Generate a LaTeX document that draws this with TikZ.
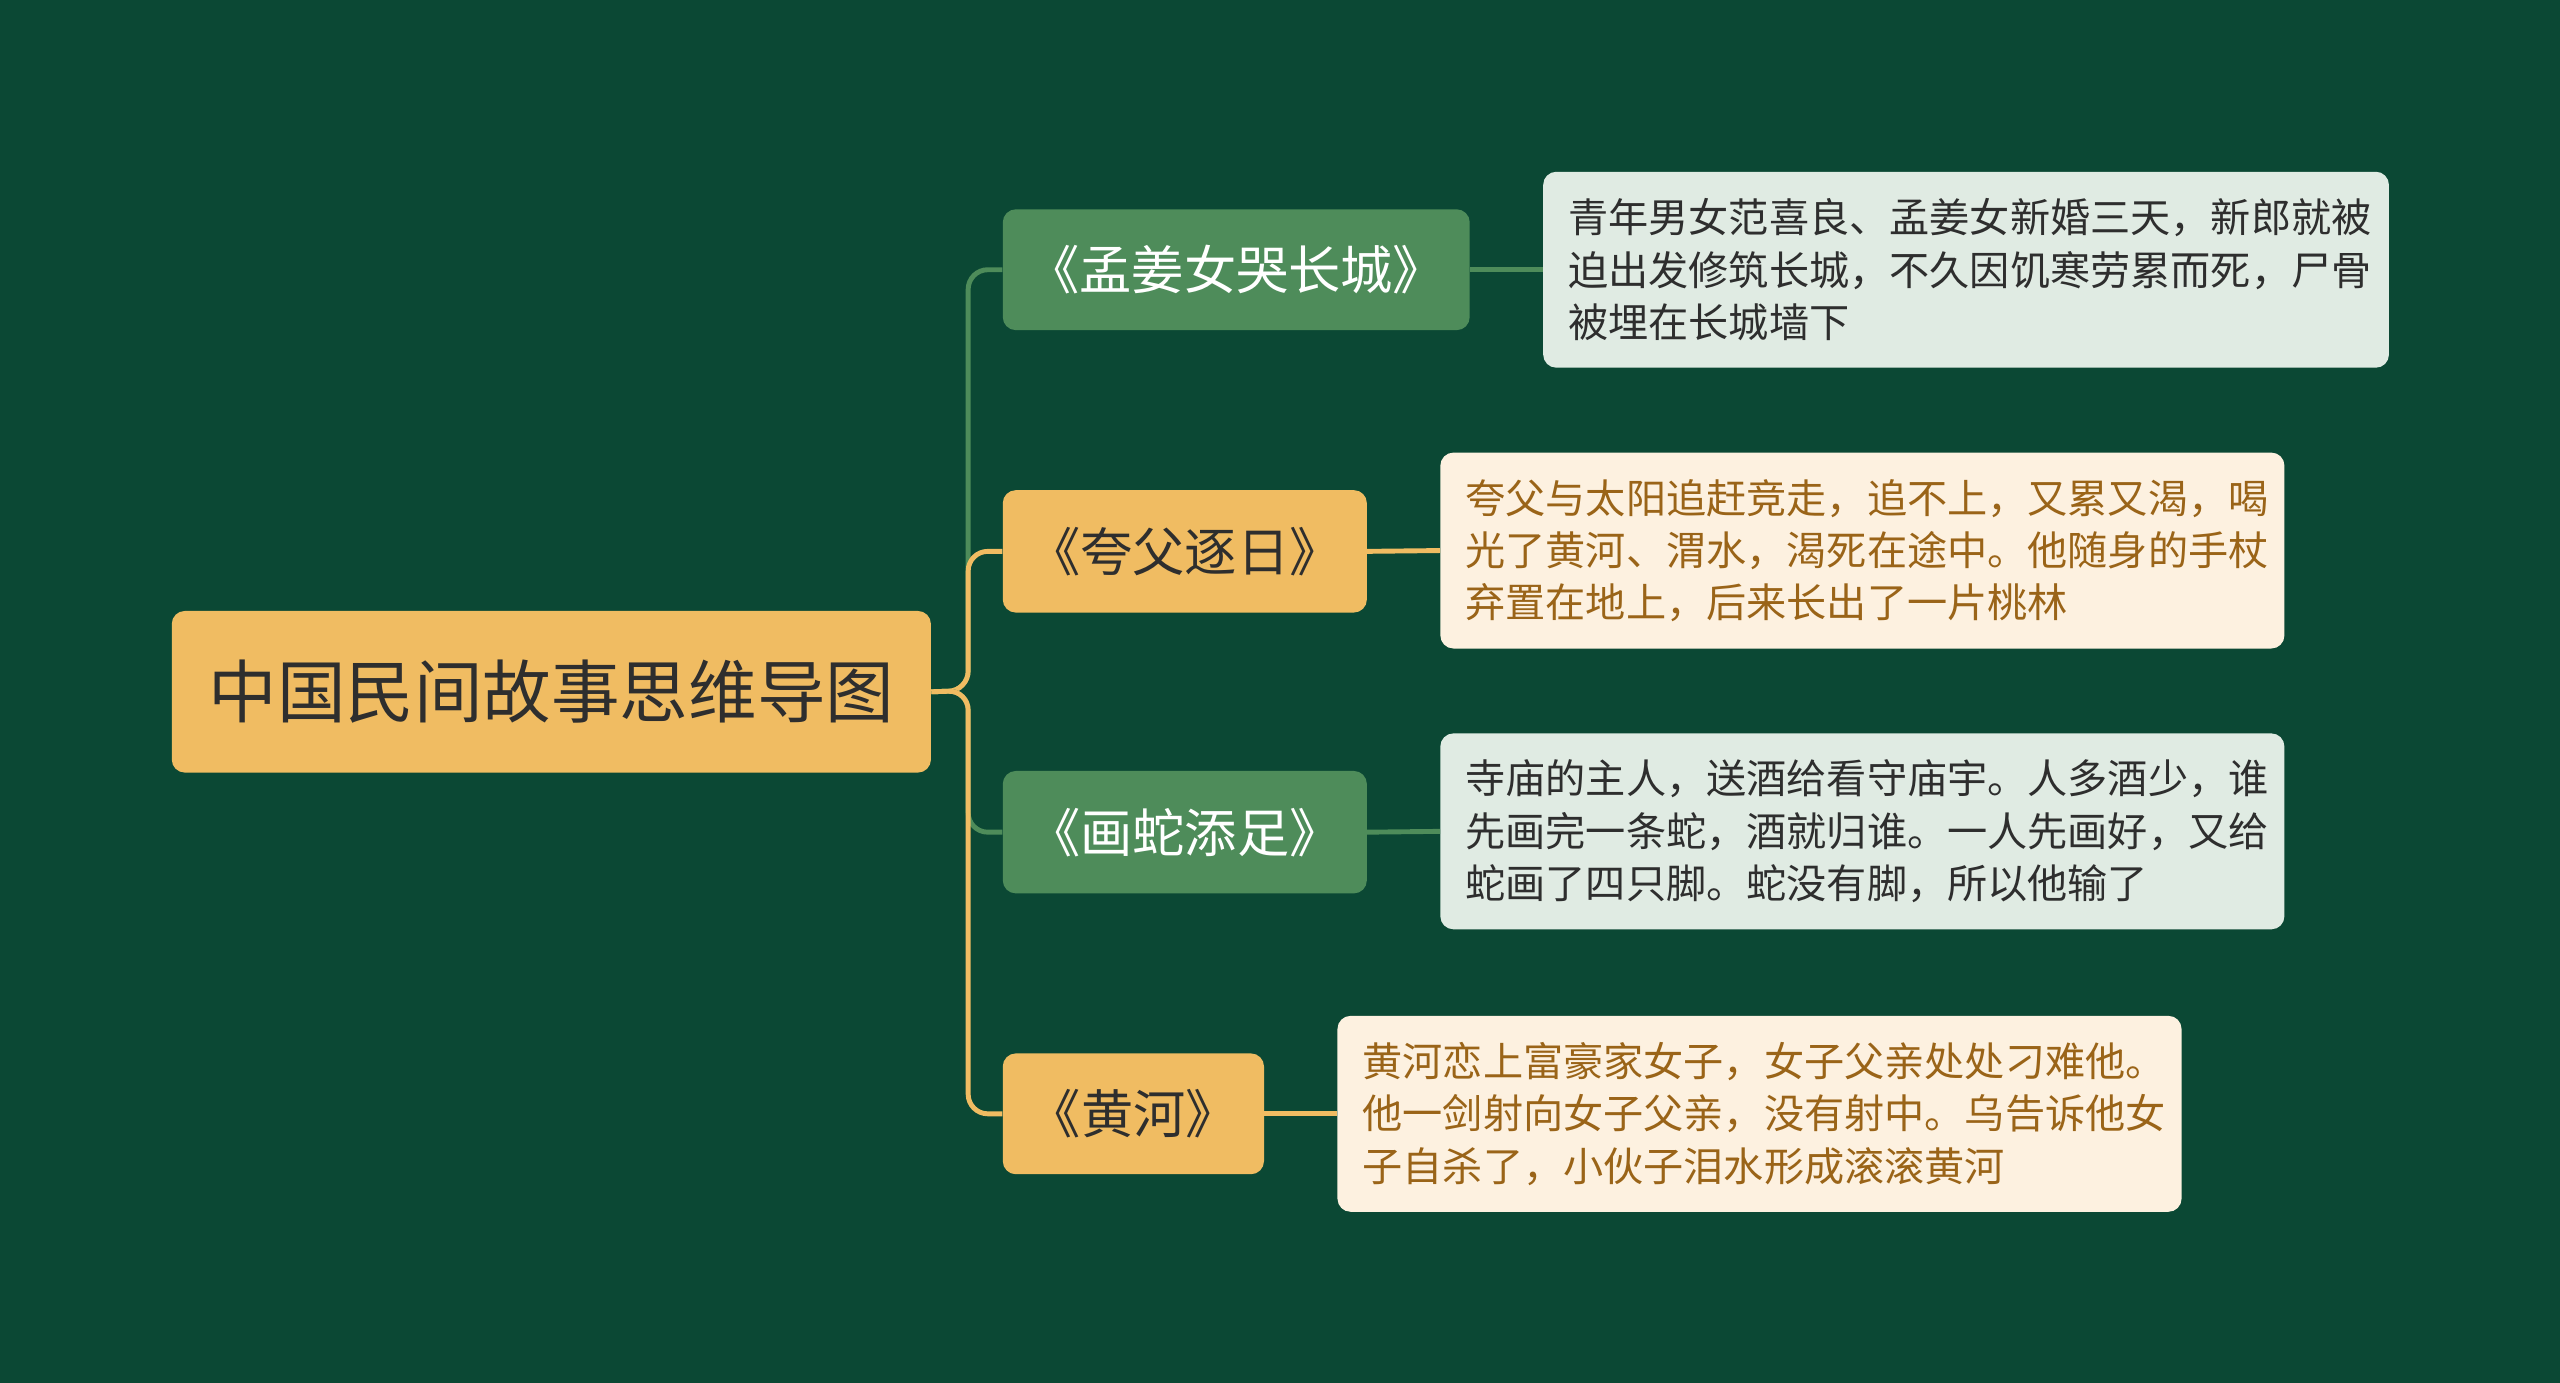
\documentclass[tikz,border=0pt]{standalone}
\usepackage{fontspec}
\setmainfont{Noto Sans CJK SC}
\begin{document}
\begin{tikzpicture}[x=1pt,y=-1pt,
 box/.style={rounded corners=8pt,inner sep=0pt,anchor=north west},
 gline/.style={draw=gB,line width=3pt,rounded corners=12pt},
 oline/.style={draw=oB,line width=3pt,rounded corners=12pt},
 btxt/.style={font=\fontsize{32}{38}\selectfont},
 leaftxt/.style={font=\fontsize{24.6}{32}\selectfont,align=left,anchor=west}]
\definecolor{bg}{HTML}{0B4834}
\definecolor{gB}{HTML}{4E8C5A}
\definecolor{oB}{HTML}{F0BC62}
\definecolor{gL}{HTML}{E0EBE3}
\definecolor{oL}{HTML}{FDF1E0}
\definecolor{oT}{HTML}{9A6418}
\definecolor{dT}{HTML}{2E2E2E}
\fill[bg] (0,0) rectangle (1568,847);
\useasboundingbox (0,0) rectangle (1568,847);
% root
\node[box,fill=oB,minimum width=465pt,minimum height=99pt] (root) at (105,374) {};
\node[font=\fontsize{42}{50}\selectfont,text=dT] (rt) at (root.center) {中国民间故事思维导图};
% branches
\node[box,fill=gB,minimum width=286pt,minimum height=74pt] (b1) at (614,128) {};
\node[btxt,text=white] at (b1.center) {《孟姜女哭长城》};
\node[box,fill=oB,minimum width=223pt,minimum height=75pt] (b2) at (614,300) {};
\node[btxt,text=dT] at (b2.center) {《夸父逐日》};
\node[box,fill=gB,minimum width=223pt,minimum height=75pt] (b3) at (614,472) {};
\node[btxt,text=white] at (b3.center) {《画蛇添足》};
\node[box,fill=oB,minimum width=160pt,minimum height=74pt] (b4) at (614,645) {};
\node[btxt,text=dT] at (b4.center) {《黄河》};
% leaves
\node[box,fill=gL,minimum width=518pt,minimum height=120pt] (l1) at (945,105) {};
\node[leaftxt,text=dT] at ([xshift=12pt]l1.west) {青年男女范喜良、孟姜女新婚三天，新郎就被\\迫出发修筑长城，不久因饥寒劳累而死，尸骨\\被埋在长城墙下};
\node[box,fill=oL,minimum width=517pt,minimum height=120pt] (l2) at (882,277) {};
\node[leaftxt,text=oT] at ([xshift=12pt]l2.west) {夸父与太阳追赶竞走，追不上，又累又渴，喝\\光了黄河、渭水，渴死在途中。他随身的手杖\\弃置在地上，后来长出了一片桃林};
\node[box,fill=gL,minimum width=517pt,minimum height=120pt] (l3) at (882,449) {};
\node[leaftxt,text=dT] at ([xshift=12pt]l3.west) {寺庙的主人，送酒给看守庙宇。人多酒少，谁\\先画完一条蛇，酒就归谁。一人先画好，又给\\蛇画了四只脚。蛇没有脚，所以他输了};
\node[box,fill=oL,minimum width=517pt,minimum height=120pt] (l4) at (819,622) {};
\node[leaftxt,text=oT] at ([xshift=12pt]l4.west) {黄河恋上富豪家女子，女子父亲处处刁难他。\\他一剑射向女子父亲，没有射中。乌告诉他女\\子自杀了，小伙子泪水形成滚滚黄河};
% connectors
\coordinate (j) at (593,423);
\draw[gline] (root.east) -- (j) |- (b1.west);
\draw[oline] (root.east) -- (j) |- (b2.west);
\draw[gline] (root.east) -- (j) |- (b3.west);
\draw[oline] (root.east) -- (j) |- (b4.west);
\draw[gline] (b1.east) -- (l1.west);
\draw[oline] (b2.east) -- (l2.west);
\draw[gline] (b3.east) -- (l3.west);
\draw[oline] (b4.east) -- (l4.west);
\end{tikzpicture}
\end{document}
